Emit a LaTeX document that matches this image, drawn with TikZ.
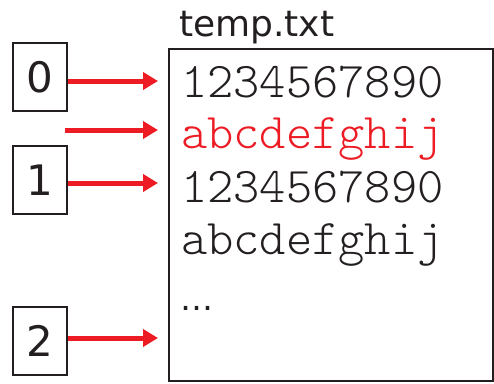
\documentclass[tikz,border=0pt]{standalone}
\usepackage{fontspec}
\setmainfont{DejaVu Sans}
\setmonofont{Latin Modern Mono Light}
\usetikzlibrary{arrows.meta}
\definecolor{ptrred}{RGB}{237,28,36}
\definecolor{inkgray}{RGB}{35,31,32}

\begin{document}
\begin{tikzpicture}[x=1pt, y=-1pt,
		idx/.style={draw=inkgray, line width=1.2pt, minimum width=54pt, minimum height=68pt, inner sep=0pt, text=inkgray, font=\fontsize{42}{42}\selectfont},
		row/.style={anchor=base west, inner sep=0pt, text=inkgray, font=\ttfamily\fontsize{50}{50}\selectfont},
		ptr/.style={ptrred, line width=5pt, -{Triangle[length=15pt, width=17pt]}}]
	\useasboundingbox (0, 0) rectangle (494, 383) ;

	% the file
	\node[draw=inkgray, line width=1.2pt, minimum width=324pt, minimum height=332pt, inner sep=0pt] (file) at (331, 215) {} ;
	\node[anchor=base west, inner sep=0pt, text=inkgray, font=\fontsize{36}{36}\selectfont] (fname) at (179, 36) {temp.txt} ;

	\node[row] (l1) at (181, 97) {1234567890} ;
	\node[row, text=ptrred] (l2) at (181, 148.5) {abcdefghij} ;
	\node[row] (l3) at (181, 202) {1234567890} ;
	\node[row] (l4) at (181, 254) {abcdefghij} ;
	\node[anchor=base west, inner sep=0pt, text=inkgray, font=\fontsize{33}{33}\selectfont] (more) at (180, 310) {…} ;

	% positions
	\node[idx] (i0) at (40, 77) {0} ;
	\node[idx] (i1) at (40, 180) {1} ;
	\node[idx] (i2) at (40, 341) {2} ;

	\coordinate (p0) at (158, 81) ;
	\coordinate (p1) at (158, 130) ;
	\coordinate (p2) at (158, 183) ;
	\coordinate (p3) at (158, 338) ;
	\coordinate (s1) at (65, 130) ;

	\draw[ptr] (i0.east |- p0) -- (p0) ;
	\draw[ptr] (s1) -- (p1) ;
	\draw[ptr] (i1.east |- p2) -- (p2) ;
	\draw[ptr] (i2.east |- p3) -- (p3) ;
\end{tikzpicture}
\end{document}
